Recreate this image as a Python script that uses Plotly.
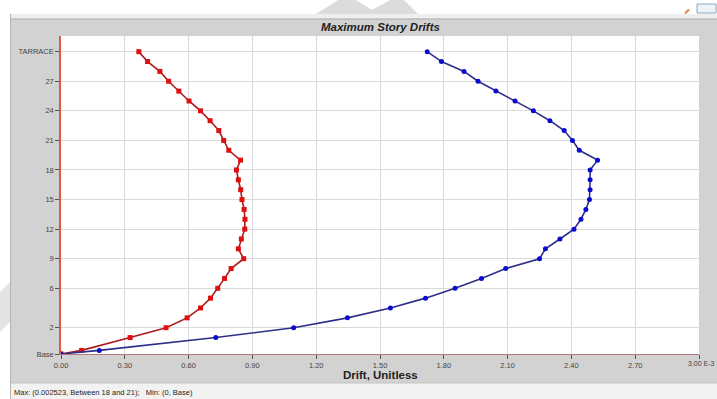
import plotly.graph_objects as go

# Floor levels from the base up, with their elevations (m)
elevation_m = [0.0, 1.1, 5.0, 8.0, 11.0, 14.0, 17.0, 20.0, 23.0, 26.0, 29.0,
               32.0, 35.0, 38.0, 41.0, 44.0, 47.0, 50.0, 53.0, 56.0, 59.0,
               62.0, 65.0, 68.0, 71.0, 74.0, 77.0, 80.0, 83.0, 86.0, 89.0, 92.0]

# Maximum story drift per level (x 1E-3)
drift_red = [0.000, 0.097, 0.325, 0.494, 0.593, 0.656, 0.703, 0.737, 0.769, 0.800,
             0.859, 0.834, 0.848, 0.864, 0.865, 0.861, 0.851, 0.845, 0.834, 0.825,
             0.844, 0.789, 0.765, 0.742, 0.701, 0.656, 0.602, 0.554, 0.506, 0.465,
             0.407, 0.366]
drift_blue = [0.000, 0.180, 0.728, 1.094, 1.347, 1.549, 1.714, 1.853, 1.977, 2.091,
              2.250, 2.278, 2.346, 2.412, 2.445, 2.468, 2.485, 2.488, 2.488, 2.488,
              2.523, 2.437, 2.405, 2.366, 2.299, 2.221, 2.135, 2.045, 1.961, 1.895,
              1.789, 1.722]

# Axis ticks (the last x label carries the exponent and is written separately)
y_tick_vals = [0.0, 8.0, 20.0, 29.0, 38.0, 47.0, 56.0, 65.0, 74.0, 83.0, 92.0]
y_tick_text = ["Base", "2", "6", "9", "12", "15", "18", "21", "24", "27", "TARRACE"]
x_tick_vals = [0.0, 0.3, 0.6, 0.9, 1.2, 1.5, 1.8, 2.1, 2.4, 2.7, 3.0]
x_tick_text = ["0.00", "0.30", "0.60", "0.90", "1.20", "1.50", "1.80", "2.10",
               "2.40", "2.70", ""]
x_last_label = "3.00 E-3"

title_text = "Maximum Story Drifts"
x_title_text = "Drift, Unitless"
status_text = "Max: (0.002523, Between 18 and 21);   Min: (0, Base)"

W, H = 717, 399
ML, MR, MT, MB = 61, 18, 36, 45
PW, PH = W - ML - MR, H - MT - MB
FONT = "Liberation Sans, Arial, sans-serif"
PANEL = "#d2d2d2"


def px(x):
    return (x - ML) / PW


def py(y):
    return (H - MB - y) / PH


fig = go.Figure()
fig.add_trace(go.Scatter(
    x=drift_red, y=elevation_m, mode="lines+markers",
    line=dict(color="#a81c1c", width=1.6),
    marker=dict(symbol="square", size=5, color="#dc1010"),
    showlegend=False, hoverinfo="skip"))
fig.add_trace(go.Scatter(
    x=drift_blue, y=elevation_m, mode="lines+markers",
    line=dict(color="#2e2e8a", width=1.6),
    marker=dict(symbol="circle", size=5, color="#0a0ad0"),
    showlegend=False, hoverinfo="skip"))


def rect(x0, y0, x1, y1, fill, line=None):
    return dict(type="rect", xref="paper", yref="paper",
                x0=px(x0), x1=px(x1), y0=py(y1), y1=py(y0),
                fillcolor=fill, line=dict(width=0) if line is None else line,
                layer="below")


def hline(y, x0, x1, color):
    return dict(type="line", xref="paper", yref="paper",
                x0=px(x0), x1=px(x1), y0=py(y), y1=py(y),
                line=dict(color=color, width=1), layer="below")


def vline(x, y0, y1, color):
    return dict(type="line", xref="paper", yref="paper",
                x0=px(x), x1=px(x), y0=py(y0), y1=py(y1),
                line=dict(color=color, width=1), layer="below")


def path(points, fill):
    d = "M " + " L ".join(f"{px(a):.5f},{py(b):.5f}" for a, b in points) + " Z"
    return dict(type="path", xref="paper", yref="paper", path=d,
                fillcolor=fill, line=dict(width=0), layer="below")


shapes = [
    rect(0, 0, W, 14, "#ffffff"),
    rect(0, 0, 10, H, "#ffffff"),
    rect(10, 14, W, 19, "#eeeeee"),
    hline(19, 10, W, "#a9a9a9"),
    vline(10.5, 14, H, "#b5b5b5"),
    rect(11, 383, W, H, "#f2f2f2"),
    hline(383, 11, W, "#c4c4c4"),
    # faint backdrop marks in the margins
    path([(316, 14), (338, 0), (356, 0), (372, 10), (390, 0), (404, 0), (418, 14)], "#dcdcdc"),
    path([(0, 292), (10, 282), (10, 322), (0, 332)], "#e4e4e4"),
    # small window icons at the top right
    rect(697, 4, 716, 13, "#eef3f8", line=dict(color="#8fa6bb", width=1)),
    path([(684, 13), (688, 9), (690, 10), (686, 14)], "#e08a50"),
]

annotations = [
    dict(text=f"<b><i>{title_text}</i></b>", xref="paper", yref="paper",
         x=px(380), y=py(27), xanchor="center", yanchor="middle", showarrow=False,
         font=dict(family=FONT, size=11.5, color="#222222")),
    dict(text=f"<b>{x_title_text}</b>", xref="paper", yref="paper",
         x=px(380), y=py(375), xanchor="center", yanchor="middle", showarrow=False,
         font=dict(family=FONT, size=11.5, color="#222222")),
    dict(text=status_text, xref="paper", yref="paper",
         x=px(12), y=py(392), xanchor="left", yanchor="middle", showarrow=False,
         font=dict(family=FONT, size=7.5, color="#222222")),
    dict(text=x_last_label, xref="x", yref="paper",
         x=x_tick_vals[-1], xshift=-13, y=py(363), xanchor="left", yanchor="middle",
         showarrow=False, font=dict(family=FONT, size=7, color="#444444")),
]

fig.update_layout(
    width=W, height=H,
    margin=dict(l=ML, r=MR, t=MT, b=MB, pad=0),
    paper_bgcolor=PANEL, plot_bgcolor="#ffffff",
    shapes=shapes, annotations=annotations,
    font=dict(family=FONT, size=7.5, color="#444444"),
    xaxis=dict(range=[0, 3.0], tickmode="array", tickvals=x_tick_vals,
               ticktext=x_tick_text, ticks="outside", ticklen=4, tickcolor="#555555",
               showgrid=True, gridcolor="#dadada", gridwidth=1, zeroline=False,
               showline=True, linecolor="#b77a7a", linewidth=1,
               tickfont=dict(family=FONT, size=7.5, color="#444444")),
    yaxis=dict(range=[0, PH / 3.286], tickmode="array", tickvals=y_tick_vals,
               ticktext=y_tick_text, ticks="outside", ticklen=4, tickcolor="#555555",
               showgrid=True, gridcolor="#dadada", gridwidth=1, zeroline=False,
               showline=True, linecolor="#dd5a40", linewidth=1.5,
               tickfont=dict(family=FONT, size=7.5, color="#444444")),
)

fig.write_html("out.html")
